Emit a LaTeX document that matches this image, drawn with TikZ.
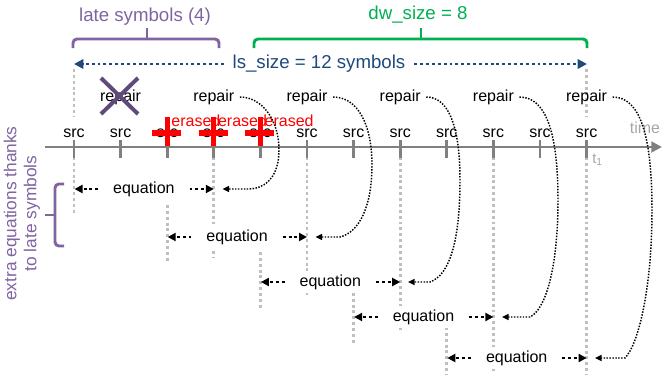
\documentclass[tikz,border=0pt]{standalone}
\usepackage{fontspec}
\setmainfont{Liberation Sans}
\usetikzlibrary{arrows.meta}
\definecolor{axisgray}{RGB}{128,128,128}
\definecolor{guidegray}{RGB}{191,191,191}
\definecolor{timegray}{RGB}{166,166,166}
\definecolor{purp}{RGB}{128,100,162}
\definecolor{xpurp}{RGB}{96,74,123}
\definecolor{grn}{RGB}{0,176,80}
\definecolor{blu}{RGB}{31,73,125}
\definecolor{redc}{RGB}{255,0,0}
\begin{document}
\begin{tikzpicture}[x=0.75pt,y=-0.75pt,
  lbl/.style={font=\fontsize{12}{14}\selectfont, inner sep=0pt},
  titlelbl/.style={font=\fontsize{14}{16}\selectfont, inner sep=0pt},
  guide/.style={draw=guidegray, line width=2.2pt, dash pattern=on 2.2pt off 2.2pt},
  tickmark/.style={draw=axisgray, line width=2.2pt},
  eqarr/.style={line width=2.2pt, dash pattern=on 2.2pt off 2.2pt, -{Triangle[length=6pt,width=6pt]}},
  blarr/.style={draw=blu, line width=2.2pt, dash pattern=on 2.2pt off 2.2pt, -{Triangle[length=7pt,width=7pt]}},
  reparr/.style={line width=1.1pt, dash pattern=on 1.1pt off 1.1pt, -{Triangle[length=5pt,width=4.5pt]}},
  brk/.style={line width=2.2pt, rounded corners=3pt},
  eqnode/.style={lbl, fill=white, inner xsep=2pt, inner ysep=3pt},
  plusmark/.style={draw=redc, line width=4pt},
]
\useasboundingbox (0,0) rectangle (662,375);

% top brackets and titles
\draw[brk, purp] (73,48) -- (73,39) -- (219,39) -- (219,48);
\draw[brk, purp] (147,39) -- (147,28);
\node[titlelbl, text=purp] (late) at (145,17) {late symbols (4)};
\draw[brk, grn] (254,48) -- (254,39) -- (587,39) -- (587,48);
\draw[brk, grn] (421,39) -- (421,28);
\node[titlelbl, text=grn] (dw) at (418,15) {dw\_size = 8};

% ls_size arrow
\node[titlelbl, text=blu] (ls) at (319,64) {ls\_size = 12 symbols};
\coordinate (lsL) at (74,64);
\coordinate (lsR) at (587,64);
\draw[blarr] ([xshift=-6.5pt]ls.west) -- (lsL);
\draw[blarr] ([xshift=6.5pt]ls.east) -- (lsR);

% upper guides
\draw[guide] (74,69) -- (74,117);
\draw[guide] (586.6,69) -- (586.6,117);

% lower guides
\draw[guide] (74,157) -- (74,215);
\draw[guide] (167.2,205) -- (167.2,262);
\draw[guide] (213.8,157) -- (213.8,257);
\draw[guide] (260.4,252) -- (260.4,308);
\draw[guide] (307,157) -- (307,296);
\draw[guide] (353.6,287) -- (353.6,343);
\draw[guide] (400.2,157) -- (400.2,333);
\draw[guide] (446.8,327) -- (446.8,375);
\draw[guide] (493.4,157) -- (493.4,372);
\draw[guide] (586.6,157) -- (586.6,375);

% time axis
\coordinate (ax0) at (45,147);
\coordinate (ax1) at (662,147);
\draw[draw=axisgray, line width=2.2pt, -{Triangle[length=8pt,width=8pt]}] (ax0) -- (ax1);
\foreach \i in {1,...,12} {
  \pgfmathsetmacro{\tx}{74+46.6*(\i-1)}
  \draw[tickmark] (\tx,140) -- (\tx,158);
  \node[lbl] (src\i) at (\tx,133) {src};
}
\node[lbl, text=timegray] (time) at (645,128) {time};
\node[lbl, text=timegray, anchor=west, font=\fontsize{11}{13}\selectfont] (tone) at (592,160) {t\textsubscript{1}};

% repair labels
\foreach \i in {2,4,6,8,10,12} {
  \pgfmathsetmacro{\tx}{74+46.6*(\i-1)}
  \node[lbl] (rp\i) at (\tx,97) {repair};
}
\draw[draw=xpurp, line width=3pt] (101,78) -- (138,114) (138,78) -- (101,114);

% erased symbols
\foreach \i in {3,4,5} {
  \pgfmathsetmacro{\tx}{74+46.6*(\i-1)}
  \node[lbl, text=redc, anchor=west] (er\i) at (\tx+4,121) {erased};
}
\foreach \i in {3,4,5} {
  \pgfmathsetmacro{\tx}{74+46.6*(\i-1)}
  \draw[plusmark] (\tx-15,133) -- (\tx+14,133) (\tx,117) -- (\tx,146);
}

% equation rows
\node[eqnode] (E1) at (143.9,189) {equation};
\coordinate (L1) at (74.5,189);   \coordinate (R1) at (213.8,189);
\node[eqnode] (E2) at (237.1,237) {equation};
\coordinate (L2) at (167.7,237);  \coordinate (R2) at (307,237);
\node[eqnode] (E3) at (330.3,282) {equation};
\coordinate (L3) at (260.9,282);  \coordinate (R3) at (400.2,282);
\node[eqnode] (E4) at (423.5,317) {equation};
\coordinate (L4) at (354.1,317);  \coordinate (R4) at (493.4,317);
\node[eqnode] (E5) at (516.7,358) {equation};
\coordinate (L5) at (447.3,358);  \coordinate (R5) at (586.6,358);
\foreach \k in {1,...,5} {
  \draw[eqarr] ([xshift=-9pt]E\k.west) -- (L\k);
  \draw[eqarr] ([xshift=9pt]E\k.east) -- (R\k);
}

% repair connectors
\coordinate (C1) at (222.5,189);
\coordinate (C2) at (315.5,237);
\coordinate (C3) at (408,282);
\coordinate (C4) at (502,317);
\coordinate (C5) at (595,358);
\draw[reparr] ([xshift=4pt]rp4.east) .. controls (262,97) and (279,120) .. (279,150)
  .. controls (279,176) and (266,189) .. (248,189) -- (C1);
\draw[reparr] ([xshift=4pt]rp6.east) .. controls (358,97) and (372,125) .. (372,165)
  .. controls (372,205) and (360,232) .. (340,237) -- (C2);
\draw[reparr] ([xshift=4pt]rp8.east) .. controls (450,97) and (460,130) .. (460,180)
  .. controls (460,240) and (450,275) .. (430,282) -- (C3);
\draw[reparr] ([xshift=4pt]rp10.east) .. controls (545,97) and (558,130) .. (558,200)
  .. controls (558,270) and (545,310) .. (530,317) -- (C4);
\draw[reparr] ([xshift=4pt]rp12.east) .. controls (640,97) and (652,135) .. (652,210)
  .. controls (652,290) and (638,345) .. (625,358) -- (C5);

% left brace and text
\draw[brk, purp] (64,184) -- (55,184) -- (55,246) -- (64,246);
\draw[brk, purp] (55,215) -- (45,215);
\node[font=\fontsize{13}{15}\selectfont, text=purp, rotate=90, align=center, inner sep=0pt] (extra) at (22,213.5) {extra equations thanks\\to late symbols};
\end{tikzpicture}
\end{document}
